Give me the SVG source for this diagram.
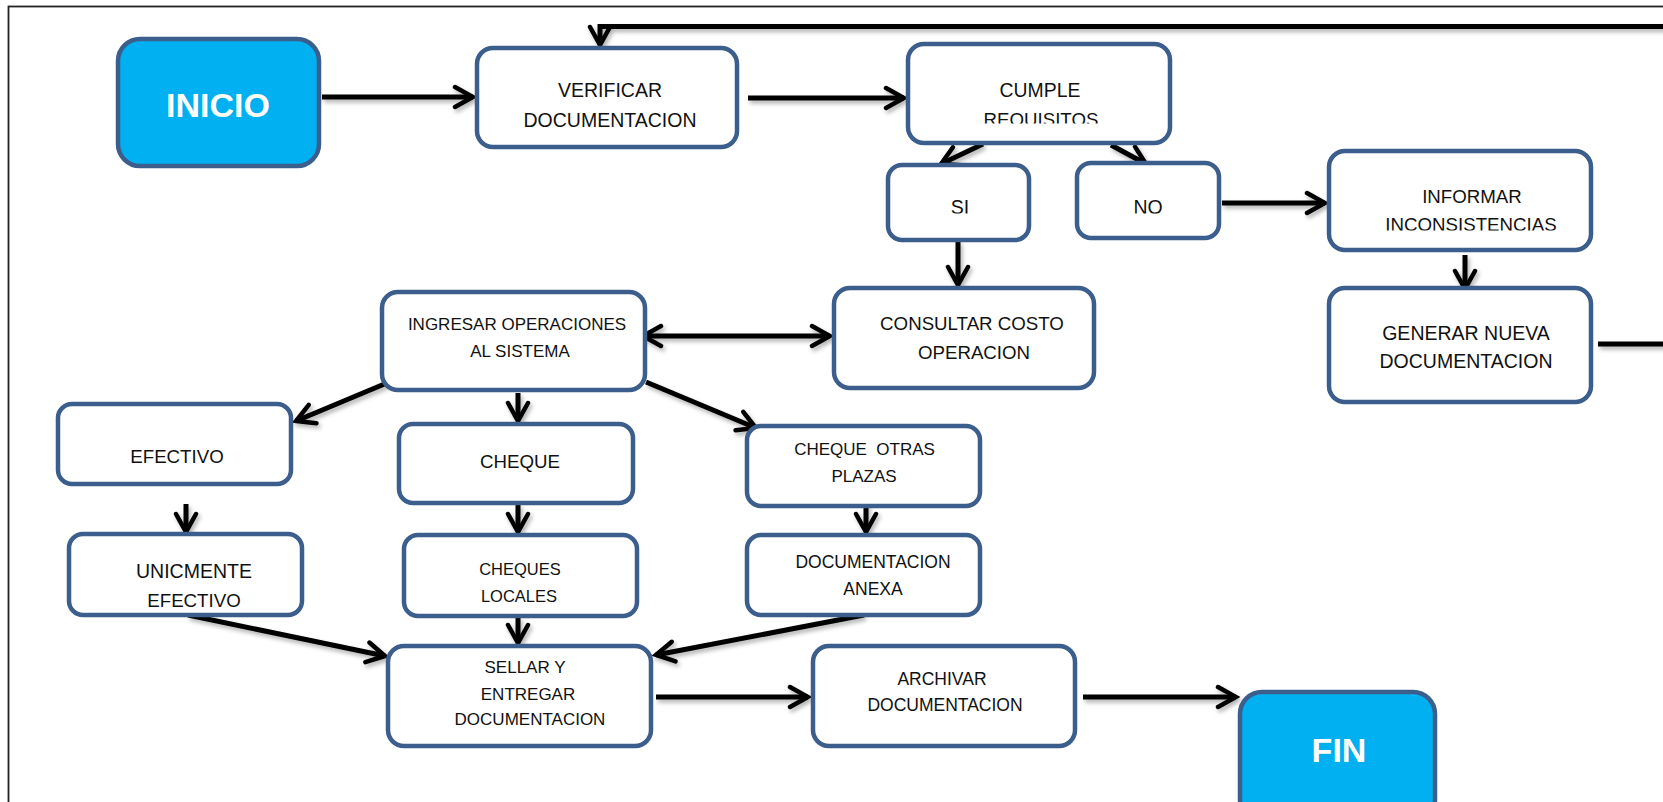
<svg xmlns="http://www.w3.org/2000/svg" width="1663" height="802" viewBox="0 0 1663 802">
<style>
.box{fill:#fff;stroke:#3B5E8C;stroke-width:4.5}
.term{fill:#00B0F0;stroke:#3B5E8C;stroke-width:4.5}
.t{font-family:"Liberation Sans",Arial,sans-serif;fill:#111;text-anchor:middle}
.f20{font-size:19.5px}
.f19{font-size:18.7px}
.f17{font-size:17px}
.tb{font-family:"Liberation Sans",Arial,sans-serif;font-weight:bold;fill:#fff;text-anchor:middle;font-size:34px}
.c{fill:none;stroke:#000;stroke-width:5}
</style>
<defs>
<marker id="ah" markerUnits="userSpaceOnUse" viewBox="-24 -14 28 28" markerWidth="28" markerHeight="28" refX="0" refY="0" orient="auto-start-reverse">
<path d="M-18,-10 L0,0 L-18,10" fill="none" stroke="#000" stroke-width="4.5" stroke-linejoin="miter" stroke-linecap="round"/>
</marker>
<filter id="sh" x="-5%" y="-5%" width="110%" height="110%">
<feDropShadow dx="2" dy="3" stdDeviation="2" flood-color="#000" flood-opacity="0.3"/>
</filter>
<clipPath id="clipCumple"><rect x="900" y="40" width="280" height="83.5"/></clipPath>
<clipPath id="clipSiNo"><rect x="880" y="160" width="350" height="53.5"/></clipPath>
<clipPath id="clipInf"><rect x="1320" y="145" width="280" height="85.5"/></clipPath>
</defs>
<rect x="8.5" y="6.5" width="1700" height="900" fill="none" stroke="#222" stroke-width="1.8"/>
<g id="connectors" filter="url(#sh)">
<path class="c" d="M322,97 H473" marker-end="url(#ah)"/>
<path class="c" d="M748,98 H904" marker-end="url(#ah)"/>
<path class="c" d="M983,144 L941,164" marker-end="url(#ah)"/>
<path class="c" d="M1111,145 L1146,164" marker-end="url(#ah)"/>
<path class="c" d="M958,241 V285" marker-end="url(#ah)"/>
<path class="c" d="M1222,203 H1325" marker-end="url(#ah)"/>
<path class="c" d="M1465,255 V289" marker-end="url(#ah)"/>
<path class="c" d="M1598,344 H1700 V26.5 H600 V45" marker-end="url(#ah)"/>
<path class="c" d="M643,336 H830" marker-start="url(#ah)" marker-end="url(#ah)"/>
<path class="c" d="M394,380 L296,421" marker-end="url(#ah)"/>
<path class="c" d="M518,393 V421" marker-end="url(#ah)"/>
<path class="c" d="M646,382 L756,428" marker-end="url(#ah)"/>
<path class="c" d="M186,504 V532" marker-end="url(#ah)"/>
<path class="c" d="M518,504 V532" marker-end="url(#ah)"/>
<path class="c" d="M866,504 V532" marker-end="url(#ah)"/>
<path class="c" d="M188,615 L385,656" marker-end="url(#ah)"/>
<path class="c" d="M518,617 V643" marker-end="url(#ah)"/>
<path class="c" d="M864,615 L656,655" marker-end="url(#ah)"/>
<path class="c" d="M656,697 H808" marker-end="url(#ah)"/>
<path class="c" d="M1083,697 H1236" marker-end="url(#ah)"/>
</g>
<g id="inicio"><rect class="term" x="118" y="39" width="201" height="127" rx="22"/><text class="tb" x="218" y="117">INICIO</text></g>
<g id="verificar"><rect class="box" x="477" y="48" width="260" height="99" rx="16"/><text class="t f20" x="610" y="97">VERIFICAR</text><text class="t f20" x="610" y="127">DOCUMENTACION</text></g>
<g id="cumple"><rect class="box" x="908" y="44" width="262" height="99" rx="16"/><text class="t f19" x="1040" y="97" style="font-size:19.4px">CUMPLE</text><text class="t f19" x="1041" y="125.5" clip-path="url(#clipCumple)">REQUISITOS</text></g>
<g id="si"><rect class="box" x="888" y="165" width="141" height="75" rx="14"/><text class="t f20" x="960" y="214" clip-path="url(#clipSiNo)">SI</text></g>
<g id="no"><rect class="box" x="1077" y="163" width="142" height="75" rx="14"/><text class="t f20" x="1148" y="214" clip-path="url(#clipSiNo)">NO</text></g>
<g id="informar"><rect class="box" x="1329" y="151" width="262" height="99" rx="16"/><text class="t f19" x="1472" y="203">INFORMAR</text><text class="t f19" x="1471" y="230.5" clip-path="url(#clipInf)">INCONSISTENCIAS</text></g>
<g id="generar"><rect class="box" x="1329" y="288" width="262" height="114" rx="16"/><text class="t f20" x="1466" y="340">GENERAR NUEVA</text><text class="t f20" x="1466" y="368">DOCUMENTACION</text></g>
<g id="consultar"><rect class="box" x="834" y="288" width="260" height="100" rx="16"/><text class="t f19" x="972" y="330">CONSULTAR COSTO</text><text class="t f19" x="974" y="359">OPERACION</text></g>
<g id="ingresar"><rect class="box" x="382" y="292" width="263" height="98" rx="16"/><text class="t f17" x="517" y="330">INGRESAR OPERACIONES</text><text class="t f17" x="520" y="357">AL SISTEMA</text></g>
<g id="efectivo"><rect class="box" x="58" y="404" width="233" height="80" rx="14"/><text class="t f19" x="177" y="463">EFECTIVO</text></g>
<g id="cheque"><rect class="box" x="399" y="424" width="234" height="79" rx="14"/><text class="t f19" x="520" y="468">CHEQUE</text></g>
<g id="cheque-otras"><rect class="box" x="747" y="426" width="233" height="80" rx="14"/><text class="t f17" x="864.5" y="455" xml:space="preserve">CHEQUE  OTRAS</text><text class="t f17" x="864" y="482">PLAZAS</text></g>
<g id="unicmente"><rect class="box" x="69" y="534" width="233" height="81" rx="14"/><text class="t f19" x="194" y="578" style="font-size:19.5px">UNICMENTE</text><text class="t f19" x="194" y="607">EFECTIVO</text></g>
<g id="cheques-locales"><rect class="box" x="404" y="535" width="233" height="81" rx="14"/><text class="t f17" x="520" y="575" style="font-size:16.5px">CHEQUES</text><text class="t f17" x="519" y="602" style="font-size:16.5px">LOCALES</text></g>
<g id="doc-anexa"><rect class="box" x="747" y="535" width="233" height="80" rx="14"/><text class="t f17" x="873" y="568" style="font-size:17.5px">DOCUMENTACION</text><text class="t f17" x="873" y="595" style="font-size:17.5px">ANEXA</text></g>
<g id="sellar"><rect class="box" x="388" y="646" width="263" height="100" rx="16"/><text class="t f17" x="525" y="673">SELLAR Y</text><text class="t f17" x="528" y="700">ENTREGAR</text><text class="t f17" x="530" y="725">DOCUMENTACION</text></g>
<g id="archivar"><rect class="box" x="813" y="646" width="262" height="100" rx="16"/><text class="t f17" x="942" y="685" style="font-size:17.5px">ARCHIVAR</text><text class="t f17" x="945" y="711" style="font-size:17.5px">DOCUMENTACION</text></g>
<g id="fin"><rect class="term" x="1240" y="692" width="195" height="130" rx="22"/><text class="tb" x="1339" y="762">FIN</text></g>
</svg>
